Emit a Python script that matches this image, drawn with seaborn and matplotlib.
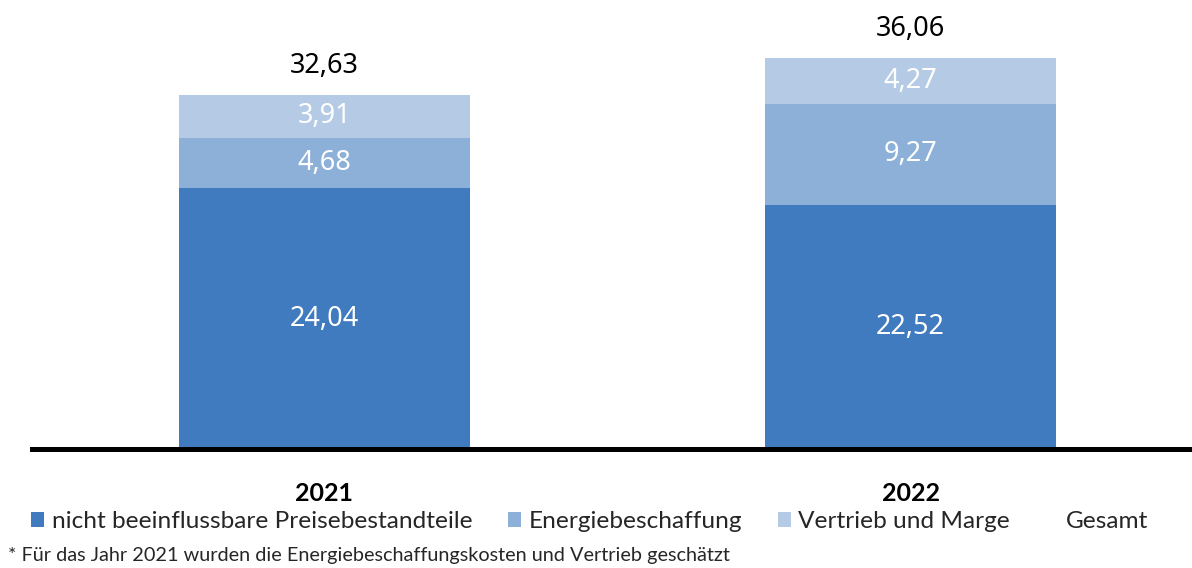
import matplotlib
matplotlib.use("Agg")
import matplotlib.pyplot as plt
import seaborn as sns
import pandas as pd
import numpy as np
from matplotlib.patches import Patch

years = ["2021", "2022"]
nicht_beeinflussbar = [24.04, 22.52]
energiebeschaffung = [4.68, 9.27]
vertrieb_marge = [3.91, 4.27]
gesamt = [32.63, 36.06]
series_names = ["nicht beeinflussbare Preisebestandteile", "Energiebeschaffung", "Vertrieb und Marge", "Gesamt"]
footnote = "* Für das Jahr 2021 wurden die Energiebeschaffungskosten und Vertrieb geschätzt"

colors = ["#3F7BBE", "#8DB0D8", "#B5CBE5"]

sns.set_theme(style="white")
plt.rcParams['font.family'] = ['Lato', 'DejaVu Sans']

fig = plt.figure(figsize=(11.92, 5.68), dpi=100)
ax = fig.add_axes([32/1192, (568-449)/568, 1 - 32/1192, 449/568])

df = pd.DataFrame({"Jahr": years, "a": nicht_beeinflussbar, "b": energiebeschaffung, "c": vertrieb_marge})
bottom = np.zeros(len(years))
for col, color in zip(["a", "b", "c"], colors):
    sns.barplot(data=df, x="Jahr", y=col, color=color, bottom=bottom, width=0.497,
                saturation=1, ax=ax, linewidth=0)
    vals = df[col].to_numpy()
    for i, v in enumerate(vals):
        ax.text(i, bottom[i] + v / 2, f"{v:.2f}".replace(".", ","), ha="center", va="center",
                color="white", fontsize=19.5, family=["Noto Sans", "DejaVu Sans"])
    bottom = bottom + vals

for i, t in enumerate(gesamt):
    ax.text(i, t + 2.7, f"{t:.2f}".replace(".", ","), ha="center", va="center",
            color="black", fontsize=19.5, family=["Noto Sans", "DejaVu Sans"])

ax.set_xlim(-0.499, 1.48)
ax.set_ylim(0, 41.4)
ax.set_xlabel("")
ax.set_ylabel("")
ax.set_yticks([])
for s in ["top", "right", "left"]:
    ax.spines[s].set_visible(False)
ax.spines["bottom"].set_linewidth(3.6)
ax.spines["bottom"].set_color("black")
ax.tick_params(axis="x", length=0, pad=24, labelsize=18)
for lbl in ax.get_xticklabels():
    lbl.set_fontweight("bold")
    lbl.set_color("black")

handles = [Patch(facecolor=c, edgecolor="none") for c in colors] + [Patch(facecolor="none", edgecolor="none")]
fig.legend(handles, series_names, loc="center left", bbox_to_anchor=(0.026, (568-522)/568),
           ncol=4, frameon=False, fontsize=17.6, handlelength=0.55, handleheight=0.55,
           handletextpad=0.3, columnspacing=1.45, borderpad=0, borderaxespad=0)

fig.text(8/1192, (568-555)/568, footnote, ha="left", va="center", fontsize=14.3,
         family=["Liberation Sans Narrow", "Lato", "DejaVu Sans"])

fig.savefig("out.png", dpi=100)
